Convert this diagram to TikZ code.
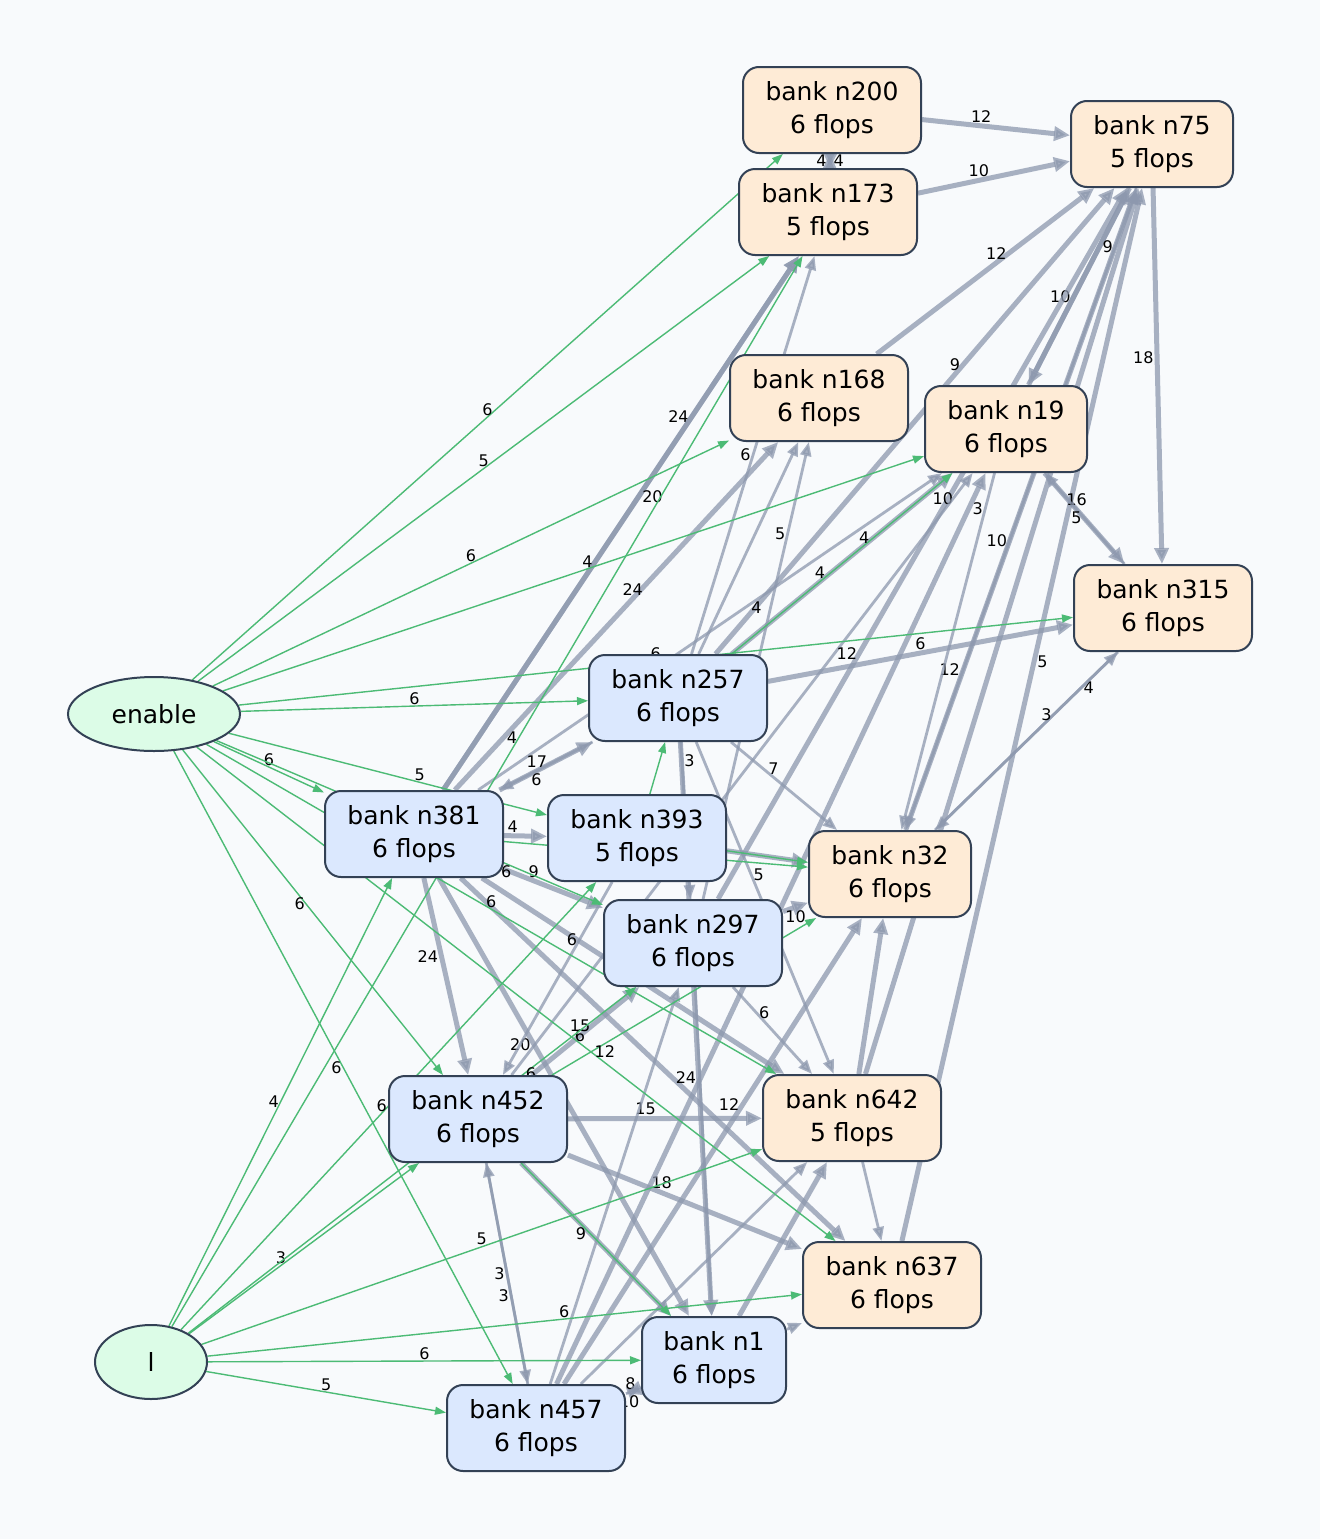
\documentclass[tikz,border=0pt]{standalone}
\usepackage{fontspec}
\setmainfont{DejaVu Sans}
\usetikzlibrary{arrows.meta,shapes.geometric}
\definecolor{bg}{HTML}{F8FAFC}
\definecolor{bd}{HTML}{334155}
\definecolor{bfill}{HTML}{DBE8FE}
\definecolor{ofill}{HTML}{FEEBD6}
\definecolor{gfill}{HTML}{DCFCE7}
\definecolor{ged}{HTML}{4CBB75}
\definecolor{sed}{HTML}{8D98AE}
\pgfdeclarelayer{edges}
\pgfdeclarelayer{back}
\pgfsetlayers{back,edges,main}
\begin{document}
\begin{tikzpicture}[x=1pt,y=-1pt,
  bx/.style={rectangle,rounded corners=16pt,draw=bd,line width=2pt,minimum width=178pt,minimum height=86pt,align=center,font=\fontsize{25}{33}\selectfont,inner sep=2pt},
  bl/.style={bx,fill=bfill},
  or/.style={bx,fill=ofill},
  el/.style={ellipse,draw=bd,line width=2pt,fill=gfill,font=\fontsize{25}{30}\selectfont},
  g/.style={draw=ged,line width=1.4pt,-{Triangle[length=11pt,width=8pt]}},
  e/.style={draw=sed,opacity=.75,line width=2.8pt,-{Triangle[length=14pt,width=11pt]}},
  ee/.style={e,line width=5pt,-{Triangle[length=16pt,width=14pt]}},
  l/.style={font=\fontsize{16}{18}\selectfont,text=black,opacity=1,inner sep=1pt}]
\begin{pgfonlayer}{back}
\fill[bg] (0,0) rectangle (1320,1539);
\end{pgfonlayer}
\useasboundingbox (0,0) rectangle (1320,1539);
\node[or] (n200) at (832,110) {bank n200\\6 flops};
\node[or,minimum width=162pt] (n75) at (1152,144) {bank n75\\5 flops};
\node[or] (n173) at (828,212) {bank n173\\5 flops};
\node[or] (n168) at (819,398) {bank n168\\6 flops};
\node[or,minimum width=162pt] (n19) at (1006,429) {bank n19\\6 flops};
\node[or] (n315) at (1163,608) {bank n315\\6 flops};
\node[el,minimum width=172pt,minimum height=74pt] (en) at (154,714) {enable};
\node[bl] (n257) at (678,698) {bank n257\\6 flops};
\node[bl] (n381) at (414,834) {bank n381\\6 flops};
\node[bl] (n393) at (637,838) {bank n393\\5 flops};
\node[or,minimum width=162pt] (n32) at (890,874) {bank n32\\6 flops};
\node[bl] (n297) at (693,943) {bank n297\\6 flops};
\node[bl] (n452) at (478,1119) {bank n452\\6 flops};
\node[or] (n642) at (852,1118) {bank n642\\5 flops};
\node[or] (n637) at (892,1285) {bank n637\\6 flops};
\node[el,minimum width=112pt,minimum height=74pt] (L) at (151,1362) {l};
\node[bl,minimum width=144pt] (n1) at (714,1360) {bank n1\\6 flops};
\node[bl] (n457) at (536,1428) {bank n457\\6 flops};
\begin{pgfonlayer}{edges}
\draw[ee] (n200) -- node[l,above,pos=.4]{12} (n75);
\draw[ee] (n173) -- node[l,above,pos=.4]{10} (n75);
\draw[ee] (n168) -- node[l,above,pos=.55]{12} (n75);
\draw[ee] (n19) -- node[l,left,pos=.45]{10} (n75);
\draw[ee] (n75) -- node[l,right,pos=.3]{9} (n19);
\draw[ee] (n75) -- node[l,left,pos=.45]{18} (n315);
\draw[ee] (n257) -- node[l,above,pos=.6]{9} (n75);
\draw[ee] (n297) -- node[l,above,pos=.55]{10} (n75);
\draw[ee] (n32) -- node[l,left,pos=.25]{12} (n75);
\draw[e] (n75) -- node[l,left,pos=.55]{10} (n32);
\draw[ee] (n642) -- (n75);
\draw[ee] (n637) -- node[l,right,pos=.55]{5} (n75);
\draw[ee] (n19) -- node[l,above,pos=.4]{16} (n315);
\draw[e] (n315) -- node[l,below,pos=.6]{5} (n19);
\draw[e] (n315) -- node[l,right,pos=.2]{4} (n32);
\draw[e] (n32) -- node[l,left,pos=.65]{3} (n315);
\draw[e] (n19) -- node[l,left,pos=.1]{3} (n32);
\draw[ee] (n200) -- node[l,right,pos=.5]{4} (n173);
\draw[ee] (n173) -- node[l,left,pos=.5]{4} (n200);
\draw[ee] (n381) -- node[l,left,pos=.7]{24} (n173);
\draw[ee] (n381) -- node[l,right,pos=.55]{20} (n173);
\draw[ee] (n381) -- node[l,above,pos=.55]{24} (n168);
\draw[e] (n257) -- node[l,left,pos=.5]{6} (n173);
\draw[e] (n257) -- (n168);
\draw[e] (n297) -- node[l,left,pos=.8]{5} (n168);
\draw[ee] (n257) -- node[l,above,pos=.4]{4} (n19);
\draw[e] (n381) -- node[l,below,pos=.6]{4} (n19);
\draw[ee] (n257) -- node[l,above,pos=.5]{6} (n315);
\draw[ee] (n381) -- node[l,above,pos=.4]{17} (n257);
\draw[e] (n257) -- node[l,below,pos=.6]{6} (n381);
\draw[e] (n257) -- node[l,above,pos=.4]{7} (n32);
\draw[e] (n257) -- node[l,right,pos=.4]{5} (n642);
\draw[ee] (n257) -- node[l,left,pos=.12]{7} (n1);
\draw[e] (n257) -- node[l,right,pos=.12]{3} (n297);
\draw[ee] (n381) -- node[l,above,pos=.2]{4} (n393);
\draw[ee] (n381) -- node[l,above,pos=.3]{9} (n297);
\draw[ee] (n381) -- node[l,left,pos=.4]{24} (n452);
\draw[ee] (n381) -- node[l,right,pos=.45]{6} (n642);
\draw[ee] (n381) -- node[l,right,pos=.55]{24} (n637);
\draw[ee] (n381) -- node[l,left,pos=.38]{20} (n1);
\draw[ee] (n393) -- (n32);
\draw[e] (n393) -- node[l,left,pos=.3]{6} (n452);
\draw[ee] (n297) -- node[l,below,pos=.5]{10} (n32);
\draw[e] (n297) -- node[l,right,pos=.3]{6} (n642);
\draw[e] (n297) -- (n1);
\draw[ee] (n452) -- node[l,above,pos=.45]{15} (n297);
\draw[ee] (n452) -- node[l,above,pos=.4]{15} (n642);
\draw[ee] (n452) -- node[l,above,pos=.4]{18} (n637);
\draw[ee] (n452) -- node[l,below,pos=.4]{9} (n1);
\draw[e] (n452) -- node[l,left,pos=.5]{3} (n457);
\draw[e] (n457) -- node[l,left,pos=.4]{3} (n452);
\draw[e] (n452) -- node[l,right,pos=.7]{12} (n19);
\draw[e] (n457) -- node[l,above,pos=.3]{8} (n1);
\draw[ee] (n1) -- node[l,below,pos=.8]{10} (n457);
\draw[ee] (n457) -- node[l,left,pos=.6]{12} (n32);
\draw[ee] (n457) -- (n19);
\draw[e] (n457) -- (n642);
\draw[e] (n457) -- (n297);
\draw[ee] (n1) -- (n642);
\draw[e] (n1) -- (n637);
\draw[e] (n642) -- (n637);
\draw[ee] (n642) -- (n32);
% green edges
\draw[g] (en) -- node[l,above,pos=.5]{6} (n200);
\draw[g] (en) -- node[l,above,pos=.5]{5} (n173);
\draw[g] (en) -- node[l,above,pos=.5]{6} (n168);
\draw[g] (en) -- node[l,above,pos=.52]{4} (n19);
\draw[g] (en) -- node[l,above,pos=.5]{6} (n315);
\draw[g] (en) -- node[l,above,pos=.5]{6} (n257);
\draw[g] (en) -- node[l,above,pos=.6]{5} (n393);
\draw[g] (en) -- node[l,above,pos=.5]{6} (n381);
\draw[g] (en) -- node[l,below,pos=.75]{6} (n297);
\draw[g] (en) -- node[l,below,pos=.45]{6} (n452);
\draw[g] (en) -- node[l,left,pos=.5]{6} (n457);
\draw[g] (en) -- node[l,above,pos=.6]{6} (n637);
\draw[g] (en) -- node[l,above,pos=.5]{6} (n642);
\draw[g] (L) -- node[l,above,pos=.5]{5} (n457);
\draw[g] (L) -- node[l,above,pos=.5]{6} (n1);
\draw[g] (L) -- node[l,above,pos=.6]{6} (n637);
\draw[g] (L) -- node[l,above,pos=.5]{5} (n642);
\draw[g] (L) -- node[l,above,pos=.4]{3} (n452);
\draw[g] (L) -- node[l,left,pos=.5]{4} (n381);
\draw[g] (L) -- node[l,left,pos=.5]{6} (n393);
\draw[g] (L) -- node[l,right,pos=.75]{6} (n297);
\draw[g] (L) -- node[l,left,pos=.55]{4} (n173);
\draw[g] (n381) -- (n32);
\draw[g] (n393) -- (n32);
\draw[g] (n257) -- node[l,above,pos=.6]{4} (n19);
\draw[g] (n452) -- node[l,below,pos=.2]{12} (n32);
\draw[g] (n452) -- (n1);
\draw[g] (n393) -- (n257);
\end{pgfonlayer}
\end{tikzpicture}
\end{document}
